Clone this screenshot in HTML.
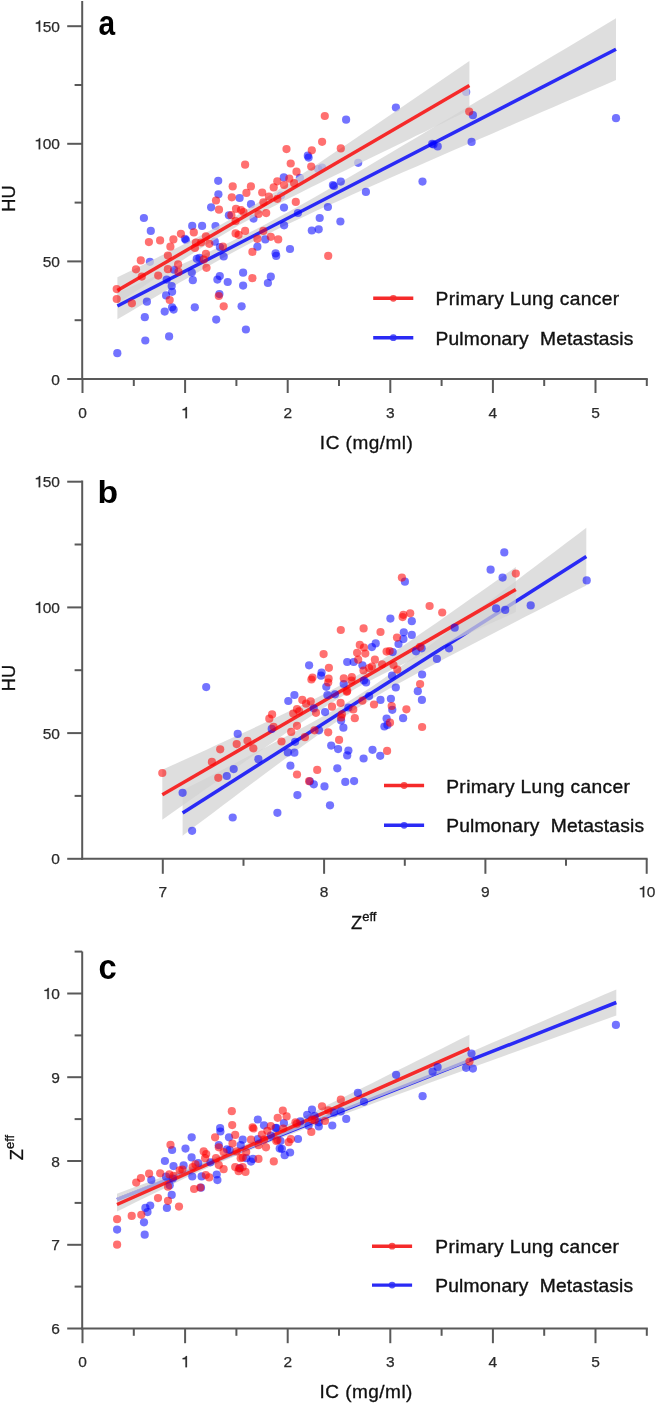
<!DOCTYPE html>
<html><head><meta charset="utf-8"><style>
html,body{margin:0;padding:0;background:#fff;}
svg{display:block;font-family:"Liberation Sans", sans-serif;will-change:transform;}
</style></head><body>
<svg width="657" height="1404" viewBox="0 0 657 1404">
<rect width="657" height="1404" fill="#fff"/>
<line x1="82.2" y1="1.0" x2="82.2" y2="380.0" stroke="#595959" stroke-width="2"/>
<line x1="81.2" y1="379.0" x2="647.8" y2="379.0" stroke="#595959" stroke-width="2"/>
<line x1="67.2" y1="379.0" x2="82.2" y2="379.0" stroke="#595959" stroke-width="2"/>
<text x="59.9" y="384.5" font-size="15.5" text-anchor="end" fill="#2b2b2b" stroke="#2b2b2b" stroke-width="0.25" font-weight="normal" >0</text>
<line x1="67.2" y1="261.4" x2="82.2" y2="261.4" stroke="#595959" stroke-width="2"/>
<text x="59.9" y="266.9" font-size="15.5" text-anchor="end" fill="#2b2b2b" stroke="#2b2b2b" stroke-width="0.25" font-weight="normal" >50</text>
<line x1="67.2" y1="143.8" x2="82.2" y2="143.8" stroke="#595959" stroke-width="2"/>
<path d="M0.397 0L0.397 0.716L0.33 0.716C0.31 0.645 0.255 0.59 0.116 0.58L0.116 0.515L0.302 0.515L0.302 0Z" fill="#2b2b2b" stroke="#2b2b2b" stroke-width="0.0161" transform="translate(34.04,149.30) scale(15.5,-15.5)"/>
<text x="59.9" y="149.3" font-size="15.5" text-anchor="end" fill="#2b2b2b" stroke="#2b2b2b" stroke-width="0.25" font-weight="normal" >&#8199;00</text>
<line x1="67.2" y1="26.2" x2="82.2" y2="26.2" stroke="#595959" stroke-width="2"/>
<path d="M0.397 0L0.397 0.716L0.33 0.716C0.31 0.645 0.255 0.59 0.116 0.58L0.116 0.515L0.302 0.515L0.302 0Z" fill="#2b2b2b" stroke="#2b2b2b" stroke-width="0.0161" transform="translate(34.04,31.70) scale(15.5,-15.5)"/>
<text x="59.9" y="31.7" font-size="15.5" text-anchor="end" fill="#2b2b2b" stroke="#2b2b2b" stroke-width="0.25" font-weight="normal" >&#8199;50</text>
<line x1="74.6" y1="320.2" x2="82.2" y2="320.2" stroke="#595959" stroke-width="2"/>
<line x1="74.6" y1="202.6" x2="82.2" y2="202.6" stroke="#595959" stroke-width="2"/>
<line x1="74.6" y1="85.0" x2="82.2" y2="85.0" stroke="#595959" stroke-width="2"/>
<line x1="82.5" y1="379.0" x2="82.5" y2="393.0" stroke="#595959" stroke-width="2"/>
<text x="82.5" y="418.2" font-size="15.5" text-anchor="middle" fill="#2b2b2b" stroke="#2b2b2b" stroke-width="0.25" font-weight="normal" >0</text>
<line x1="133.8" y1="379.0" x2="133.8" y2="386.0" stroke="#595959" stroke-width="2"/>
<line x1="185.1" y1="379.0" x2="185.1" y2="393.0" stroke="#595959" stroke-width="2"/>
<path d="M0.397 0L0.397 0.716L0.33 0.716C0.31 0.645 0.255 0.59 0.116 0.58L0.116 0.515L0.302 0.515L0.302 0Z" fill="#2b2b2b" stroke="#2b2b2b" stroke-width="0.0161" transform="translate(180.79,418.20) scale(15.5,-15.5)"/>
<text x="185.1" y="418.2" font-size="15.5" text-anchor="middle" fill="#2b2b2b" stroke="#2b2b2b" stroke-width="0.25" font-weight="normal" >&#8199;</text>
<line x1="236.4" y1="379.0" x2="236.4" y2="386.0" stroke="#595959" stroke-width="2"/>
<line x1="287.7" y1="379.0" x2="287.7" y2="393.0" stroke="#595959" stroke-width="2"/>
<text x="287.7" y="418.2" font-size="15.5" text-anchor="middle" fill="#2b2b2b" stroke="#2b2b2b" stroke-width="0.25" font-weight="normal" >2</text>
<line x1="339.0" y1="379.0" x2="339.0" y2="386.0" stroke="#595959" stroke-width="2"/>
<line x1="390.3" y1="379.0" x2="390.3" y2="393.0" stroke="#595959" stroke-width="2"/>
<text x="390.3" y="418.2" font-size="15.5" text-anchor="middle" fill="#2b2b2b" stroke="#2b2b2b" stroke-width="0.25" font-weight="normal" >3</text>
<line x1="441.6" y1="379.0" x2="441.6" y2="386.0" stroke="#595959" stroke-width="2"/>
<line x1="492.9" y1="379.0" x2="492.9" y2="393.0" stroke="#595959" stroke-width="2"/>
<text x="492.9" y="418.2" font-size="15.5" text-anchor="middle" fill="#2b2b2b" stroke="#2b2b2b" stroke-width="0.25" font-weight="normal" >4</text>
<line x1="544.2" y1="379.0" x2="544.2" y2="386.0" stroke="#595959" stroke-width="2"/>
<line x1="595.5" y1="379.0" x2="595.5" y2="393.0" stroke="#595959" stroke-width="2"/>
<text x="595.5" y="418.2" font-size="15.5" text-anchor="middle" fill="#2b2b2b" stroke="#2b2b2b" stroke-width="0.25" font-weight="normal" >5</text>
<line x1="646.8" y1="379.0" x2="646.8" y2="386.0" stroke="#595959" stroke-width="2"/>
<path d="M117.4,292.7 L129.9,287.3 L142.3,281.8 L154.8,276.3 L167.3,270.8 L179.7,265.2 L192.2,259.6 L204.7,253.9 L217.1,248.1 L229.6,242.2 L242.1,236.1 L254.5,229.9 L267.0,223.4 L279.4,216.8 L291.9,210.0 L304.4,203.0 L316.8,195.9 L329.3,188.7 L341.8,181.5 L354.2,174.2 L366.7,166.9 L379.2,159.6 L391.6,152.2 L404.1,144.8 L416.6,137.4 L429.0,130.0 L441.5,122.6 L454.0,115.2 L466.4,107.8 L478.9,100.3 L491.4,92.9 L503.8,85.4 L516.3,78.0 L528.7,70.6 L541.2,63.1 L553.7,55.6 L566.1,48.2 L578.6,40.7 L591.1,33.3 L603.5,25.8 L616.0,18.3 L616.0,80.1 L603.5,85.4 L591.1,90.8 L578.6,96.2 L566.1,101.6 L553.7,107.0 L541.2,112.3 L528.7,117.7 L516.3,123.1 L503.8,128.5 L491.4,133.9 L478.9,139.3 L466.4,144.7 L454.0,150.1 L441.5,155.5 L429.0,161.0 L416.6,166.4 L404.1,171.8 L391.6,177.3 L379.2,182.8 L366.7,188.3 L354.2,193.8 L341.8,199.4 L329.3,205.0 L316.8,210.6 L304.4,216.4 L291.9,222.3 L279.4,228.3 L267.0,234.5 L254.5,240.9 L242.1,247.5 L229.6,254.3 L217.1,261.2 L204.7,268.3 L192.2,275.4 L179.7,282.6 L167.3,289.9 L154.8,297.2 L142.3,304.5 L129.9,311.9 L117.4,319.3 Z" fill="rgba(210,210,210,0.74)"/>
<line x1="117.4" y1="306.0" x2="616.0" y2="49.2" stroke="#2a2af5" stroke-width="3.5"/>
<circle cx="117.3" cy="353.2" r="4.1" fill="rgba(0,0,255,0.55)"/>
<circle cx="145.3" cy="340.5" r="4.1" fill="rgba(0,0,255,0.55)"/>
<circle cx="144.8" cy="317.2" r="4.1" fill="rgba(0,0,255,0.55)"/>
<circle cx="146.9" cy="301.7" r="4.1" fill="rgba(0,0,255,0.55)"/>
<circle cx="149.9" cy="261.8" r="4.1" fill="rgba(0,0,255,0.55)"/>
<circle cx="164.7" cy="311.6" r="4.1" fill="rgba(0,0,255,0.55)"/>
<circle cx="166.1" cy="295.4" r="4.1" fill="rgba(0,0,255,0.55)"/>
<circle cx="166.7" cy="279.6" r="4.1" fill="rgba(0,0,255,0.55)"/>
<circle cx="169.1" cy="336.4" r="4.1" fill="rgba(0,0,255,0.55)"/>
<circle cx="171.7" cy="286.1" r="4.1" fill="rgba(0,0,255,0.55)"/>
<circle cx="172.1" cy="291.8" r="4.1" fill="rgba(0,0,255,0.55)"/>
<circle cx="172.1" cy="307.3" r="4.1" fill="rgba(0,0,255,0.55)"/>
<circle cx="173.6" cy="309.6" r="4.1" fill="rgba(0,0,255,0.55)"/>
<circle cx="174.0" cy="269.7" r="4.1" fill="rgba(0,0,255,0.55)"/>
<circle cx="191.8" cy="272.6" r="4.1" fill="rgba(0,0,255,0.55)"/>
<circle cx="192.8" cy="280.2" r="4.1" fill="rgba(0,0,255,0.55)"/>
<circle cx="194.8" cy="307.3" r="4.1" fill="rgba(0,0,255,0.55)"/>
<circle cx="196.8" cy="258.8" r="4.1" fill="rgba(0,0,255,0.55)"/>
<circle cx="199.4" cy="257.8" r="4.1" fill="rgba(0,0,255,0.55)"/>
<circle cx="143.9" cy="218.0" r="4.1" fill="rgba(0,0,255,0.55)"/>
<circle cx="150.8" cy="230.9" r="4.1" fill="rgba(0,0,255,0.55)"/>
<circle cx="184.9" cy="238.8" r="4.1" fill="rgba(0,0,255,0.55)"/>
<circle cx="186.0" cy="240.0" r="4.1" fill="rgba(0,0,255,0.55)"/>
<circle cx="192.2" cy="225.9" r="4.1" fill="rgba(0,0,255,0.55)"/>
<circle cx="202.1" cy="225.9" r="4.1" fill="rgba(0,0,255,0.55)"/>
<circle cx="223.7" cy="256.5" r="4.1" fill="rgba(0,0,255,0.55)"/>
<circle cx="275.6" cy="253.3" r="4.1" fill="rgba(0,0,255,0.55)"/>
<circle cx="276.2" cy="255.9" r="4.1" fill="rgba(0,0,255,0.55)"/>
<circle cx="243.1" cy="272.7" r="4.1" fill="rgba(0,0,255,0.55)"/>
<circle cx="219.8" cy="276.1" r="4.1" fill="rgba(0,0,255,0.55)"/>
<circle cx="217.4" cy="279.6" r="4.1" fill="rgba(0,0,255,0.55)"/>
<circle cx="227.7" cy="282.0" r="4.1" fill="rgba(0,0,255,0.55)"/>
<circle cx="243.1" cy="285.6" r="4.1" fill="rgba(0,0,255,0.55)"/>
<circle cx="270.8" cy="276.7" r="4.1" fill="rgba(0,0,255,0.55)"/>
<circle cx="267.9" cy="283.0" r="4.1" fill="rgba(0,0,255,0.55)"/>
<circle cx="219.4" cy="294.1" r="4.1" fill="rgba(0,0,255,0.55)"/>
<circle cx="241.6" cy="306.3" r="4.1" fill="rgba(0,0,255,0.55)"/>
<circle cx="216.2" cy="319.6" r="4.1" fill="rgba(0,0,255,0.55)"/>
<circle cx="245.9" cy="329.5" r="4.1" fill="rgba(0,0,255,0.55)"/>
<circle cx="218.2" cy="180.8" r="4.1" fill="rgba(0,0,255,0.55)"/>
<circle cx="218.4" cy="194.3" r="4.1" fill="rgba(0,0,255,0.55)"/>
<circle cx="239.6" cy="198.0" r="4.1" fill="rgba(0,0,255,0.55)"/>
<circle cx="211.1" cy="207.3" r="4.1" fill="rgba(0,0,255,0.55)"/>
<circle cx="228.9" cy="215.3" r="4.1" fill="rgba(0,0,255,0.55)"/>
<circle cx="251.0" cy="204.2" r="4.1" fill="rgba(0,0,255,0.55)"/>
<circle cx="253.5" cy="218.6" r="4.1" fill="rgba(0,0,255,0.55)"/>
<circle cx="284.0" cy="207.6" r="4.1" fill="rgba(0,0,255,0.55)"/>
<circle cx="283.8" cy="177.4" r="4.1" fill="rgba(0,0,255,0.55)"/>
<circle cx="299.9" cy="177.8" r="4.1" fill="rgba(0,0,255,0.55)"/>
<circle cx="307.8" cy="155.7" r="4.1" fill="rgba(0,0,255,0.55)"/>
<circle cx="322.1" cy="167.5" r="4.1" fill="rgba(0,0,255,0.55)"/>
<circle cx="319.7" cy="218.0" r="4.1" fill="rgba(0,0,255,0.55)"/>
<circle cx="311.8" cy="230.5" r="4.1" fill="rgba(0,0,255,0.55)"/>
<circle cx="318.7" cy="229.3" r="4.1" fill="rgba(0,0,255,0.55)"/>
<circle cx="284.1" cy="225.3" r="4.1" fill="rgba(0,0,255,0.55)"/>
<circle cx="297.9" cy="213.0" r="4.1" fill="rgba(0,0,255,0.55)"/>
<circle cx="215.5" cy="226.1" r="4.1" fill="rgba(0,0,255,0.55)"/>
<circle cx="214.8" cy="241.7" r="4.1" fill="rgba(0,0,255,0.55)"/>
<circle cx="265.3" cy="239.4" r="4.1" fill="rgba(0,0,255,0.55)"/>
<circle cx="257.4" cy="246.7" r="4.1" fill="rgba(0,0,255,0.55)"/>
<circle cx="290.0" cy="249.0" r="4.1" fill="rgba(0,0,255,0.55)"/>
<circle cx="281.0" cy="195.5" r="4.1" fill="rgba(0,0,255,0.55)"/>
<circle cx="219.9" cy="247.0" r="4.1" fill="rgba(0,0,255,0.55)"/>
<circle cx="327.9" cy="207.0" r="4.1" fill="rgba(0,0,255,0.55)"/>
<circle cx="340.4" cy="221.5" r="4.1" fill="rgba(0,0,255,0.55)"/>
<circle cx="395.9" cy="107.6" r="4.1" fill="rgba(0,0,255,0.55)"/>
<circle cx="346.1" cy="119.7" r="4.1" fill="rgba(0,0,255,0.55)"/>
<circle cx="358.2" cy="162.8" r="4.1" fill="rgba(0,0,255,0.55)"/>
<circle cx="332.9" cy="185.0" r="4.1" fill="rgba(0,0,255,0.55)"/>
<circle cx="334.0" cy="186.0" r="4.1" fill="rgba(0,0,255,0.55)"/>
<circle cx="340.8" cy="181.6" r="4.1" fill="rgba(0,0,255,0.55)"/>
<circle cx="365.9" cy="191.9" r="4.1" fill="rgba(0,0,255,0.55)"/>
<circle cx="422.5" cy="181.6" r="4.1" fill="rgba(0,0,255,0.55)"/>
<circle cx="432.2" cy="143.8" r="4.1" fill="rgba(0,0,255,0.55)"/>
<circle cx="433.5" cy="144.5" r="4.1" fill="rgba(0,0,255,0.55)"/>
<circle cx="437.7" cy="146.4" r="4.1" fill="rgba(0,0,255,0.55)"/>
<circle cx="466.2" cy="92.0" r="4.1" fill="rgba(0,0,255,0.55)"/>
<circle cx="472.9" cy="115.2" r="4.1" fill="rgba(0,0,255,0.55)"/>
<circle cx="471.6" cy="141.9" r="4.1" fill="rgba(0,0,255,0.55)"/>
<circle cx="616.0" cy="118.2" r="4.1" fill="rgba(0,0,255,0.55)"/>
<circle cx="308.6" cy="157.6" r="4.1" fill="rgba(0,0,255,0.55)"/>
<circle cx="318.2" cy="169.0" r="4.1" fill="rgba(0,0,255,0.55)"/>
<path d="M117.4,277.3 L126.2,273.0 L135.0,268.7 L143.8,264.4 L152.6,260.0 L161.4,255.6 L170.2,251.2 L179.0,246.7 L187.8,242.2 L196.6,237.7 L205.4,233.0 L214.2,228.3 L223.0,223.4 L231.8,218.4 L240.6,213.3 L249.4,208.0 L258.2,202.6 L267.0,197.0 L275.8,191.4 L284.6,185.7 L293.4,179.9 L302.2,174.1 L311.0,168.3 L319.8,162.4 L328.6,156.5 L337.4,150.6 L346.2,144.7 L355.0,138.8 L363.8,132.8 L372.6,126.9 L381.4,120.9 L390.2,115.0 L399.0,109.0 L407.8,103.0 L416.6,97.0 L425.4,91.1 L434.2,85.1 L443.0,79.1 L451.8,73.1 L460.6,67.1 L469.4,61.1 L469.4,110.1 L460.6,114.3 L451.8,118.6 L443.0,122.9 L434.2,127.1 L425.4,131.4 L416.6,135.6 L407.8,139.9 L399.0,144.2 L390.2,148.4 L381.4,152.7 L372.6,157.0 L363.8,161.3 L355.0,165.6 L346.2,169.9 L337.4,174.2 L328.6,178.6 L319.8,182.9 L311.0,187.3 L302.2,191.7 L293.4,196.2 L284.6,200.6 L275.8,205.2 L267.0,209.8 L258.2,214.5 L249.4,219.4 L240.6,224.3 L231.8,229.4 L223.0,234.7 L214.2,240.0 L205.4,245.5 L196.6,251.1 L187.8,256.8 L179.0,262.6 L170.2,268.3 L161.4,274.2 L152.6,280.0 L143.8,285.9 L135.0,291.8 L126.2,297.7 L117.4,303.7 Z" fill="rgba(210,210,210,0.74)"/>
<line x1="117.4" y1="290.5" x2="469.4" y2="85.6" stroke="#f52a2a" stroke-width="3.5"/>
<circle cx="116.7" cy="289.1" r="4.1" fill="rgba(255,0,0,0.56)"/>
<circle cx="116.7" cy="299.0" r="4.1" fill="rgba(255,0,0,0.56)"/>
<circle cx="131.9" cy="303.3" r="4.1" fill="rgba(255,0,0,0.56)"/>
<circle cx="136.0" cy="269.3" r="4.1" fill="rgba(255,0,0,0.56)"/>
<circle cx="140.8" cy="260.4" r="4.1" fill="rgba(255,0,0,0.56)"/>
<circle cx="141.8" cy="276.6" r="4.1" fill="rgba(255,0,0,0.56)"/>
<circle cx="158.2" cy="275.6" r="4.1" fill="rgba(255,0,0,0.56)"/>
<circle cx="167.9" cy="255.5" r="4.1" fill="rgba(255,0,0,0.56)"/>
<circle cx="167.9" cy="269.2" r="4.1" fill="rgba(255,0,0,0.56)"/>
<circle cx="178.1" cy="264.4" r="4.1" fill="rgba(255,0,0,0.56)"/>
<circle cx="178.5" cy="271.9" r="4.1" fill="rgba(255,0,0,0.56)"/>
<circle cx="169.7" cy="300.0" r="4.1" fill="rgba(255,0,0,0.56)"/>
<circle cx="203.8" cy="259.6" r="4.1" fill="rgba(255,0,0,0.56)"/>
<circle cx="148.9" cy="242.1" r="4.1" fill="rgba(255,0,0,0.56)"/>
<circle cx="160.1" cy="240.4" r="4.1" fill="rgba(255,0,0,0.56)"/>
<circle cx="173.4" cy="239.4" r="4.1" fill="rgba(255,0,0,0.56)"/>
<circle cx="180.9" cy="233.8" r="4.1" fill="rgba(255,0,0,0.56)"/>
<circle cx="170.4" cy="246.7" r="4.1" fill="rgba(255,0,0,0.56)"/>
<circle cx="193.8" cy="232.4" r="4.1" fill="rgba(255,0,0,0.56)"/>
<circle cx="195.9" cy="242.5" r="4.1" fill="rgba(255,0,0,0.56)"/>
<circle cx="201.1" cy="242.5" r="4.1" fill="rgba(255,0,0,0.56)"/>
<circle cx="194.9" cy="248.0" r="4.1" fill="rgba(255,0,0,0.56)"/>
<circle cx="252.4" cy="251.9" r="4.1" fill="rgba(255,0,0,0.56)"/>
<circle cx="205.9" cy="253.9" r="4.1" fill="rgba(255,0,0,0.56)"/>
<circle cx="206.5" cy="267.8" r="4.1" fill="rgba(255,0,0,0.56)"/>
<circle cx="252.4" cy="278.2" r="4.1" fill="rgba(255,0,0,0.56)"/>
<circle cx="218.8" cy="296.0" r="4.1" fill="rgba(255,0,0,0.56)"/>
<circle cx="223.7" cy="306.3" r="4.1" fill="rgba(255,0,0,0.56)"/>
<circle cx="328.2" cy="255.9" r="4.1" fill="rgba(255,0,0,0.56)"/>
<circle cx="245.1" cy="164.7" r="4.1" fill="rgba(255,0,0,0.56)"/>
<circle cx="286.5" cy="149.1" r="4.1" fill="rgba(255,0,0,0.56)"/>
<circle cx="322.1" cy="141.8" r="4.1" fill="rgba(255,0,0,0.56)"/>
<circle cx="311.8" cy="150.3" r="4.1" fill="rgba(255,0,0,0.56)"/>
<circle cx="290.7" cy="163.5" r="4.1" fill="rgba(255,0,0,0.56)"/>
<circle cx="311.2" cy="166.6" r="4.1" fill="rgba(255,0,0,0.56)"/>
<circle cx="296.5" cy="171.7" r="4.1" fill="rgba(255,0,0,0.56)"/>
<circle cx="232.7" cy="186.4" r="4.1" fill="rgba(255,0,0,0.56)"/>
<circle cx="250.9" cy="186.4" r="4.1" fill="rgba(255,0,0,0.56)"/>
<circle cx="246.4" cy="192.9" r="4.1" fill="rgba(255,0,0,0.56)"/>
<circle cx="231.8" cy="197.3" r="4.1" fill="rgba(255,0,0,0.56)"/>
<circle cx="216.0" cy="200.5" r="4.1" fill="rgba(255,0,0,0.56)"/>
<circle cx="219.0" cy="209.7" r="4.1" fill="rgba(255,0,0,0.56)"/>
<circle cx="236.0" cy="208.8" r="4.1" fill="rgba(255,0,0,0.56)"/>
<circle cx="241.0" cy="210.0" r="4.1" fill="rgba(255,0,0,0.56)"/>
<circle cx="243.5" cy="212.0" r="4.1" fill="rgba(255,0,0,0.56)"/>
<circle cx="262.2" cy="192.5" r="4.1" fill="rgba(255,0,0,0.56)"/>
<circle cx="268.9" cy="196.5" r="4.1" fill="rgba(255,0,0,0.56)"/>
<circle cx="273.7" cy="187.4" r="4.1" fill="rgba(255,0,0,0.56)"/>
<circle cx="277.3" cy="181.3" r="4.1" fill="rgba(255,0,0,0.56)"/>
<circle cx="284.1" cy="185.0" r="4.1" fill="rgba(255,0,0,0.56)"/>
<circle cx="289.3" cy="178.7" r="4.1" fill="rgba(255,0,0,0.56)"/>
<circle cx="294.1" cy="183.2" r="4.1" fill="rgba(255,0,0,0.56)"/>
<circle cx="277.3" cy="198.8" r="4.1" fill="rgba(255,0,0,0.56)"/>
<circle cx="263.4" cy="202.3" r="4.1" fill="rgba(255,0,0,0.56)"/>
<circle cx="295.8" cy="201.9" r="4.1" fill="rgba(255,0,0,0.56)"/>
<circle cx="258.5" cy="214.0" r="4.1" fill="rgba(255,0,0,0.56)"/>
<circle cx="266.2" cy="213.1" r="4.1" fill="rgba(255,0,0,0.56)"/>
<circle cx="231.4" cy="215.2" r="4.1" fill="rgba(255,0,0,0.56)"/>
<circle cx="235.6" cy="221.0" r="4.1" fill="rgba(255,0,0,0.56)"/>
<circle cx="245.1" cy="230.9" r="4.1" fill="rgba(255,0,0,0.56)"/>
<circle cx="235.6" cy="233.4" r="4.1" fill="rgba(255,0,0,0.56)"/>
<circle cx="238.6" cy="234.8" r="4.1" fill="rgba(255,0,0,0.56)"/>
<circle cx="257.4" cy="238.8" r="4.1" fill="rgba(255,0,0,0.56)"/>
<circle cx="263.3" cy="230.9" r="4.1" fill="rgba(255,0,0,0.56)"/>
<circle cx="270.8" cy="236.8" r="4.1" fill="rgba(255,0,0,0.56)"/>
<circle cx="278.2" cy="239.4" r="4.1" fill="rgba(255,0,0,0.56)"/>
<circle cx="205.9" cy="236.3" r="4.1" fill="rgba(255,0,0,0.56)"/>
<circle cx="209.3" cy="243.8" r="4.1" fill="rgba(255,0,0,0.56)"/>
<circle cx="222.9" cy="246.6" r="4.1" fill="rgba(255,0,0,0.56)"/>
<circle cx="324.8" cy="116.0" r="4.1" fill="rgba(255,0,0,0.56)"/>
<circle cx="340.8" cy="148.4" r="4.1" fill="rgba(255,0,0,0.56)"/>
<circle cx="469.2" cy="111.6" r="4.1" fill="rgba(255,0,0,0.56)"/>
<text x="0" y="0" font-size="17.6" fill="#111" stroke="#111" stroke-width="0.3" letter-spacing="0.45" text-anchor="middle" transform="translate(366.6,449.0) scale(1.08,1)">IC (mg/ml)</text>
<text x="0" y="0" font-size="18.3" fill="#111" stroke="#111" stroke-width="0.3" text-anchor="middle" transform="translate(14.6,198.5) rotate(-90)">HU</text>
<text x="0" y="0" font-size="34.3" font-weight="bold" fill="#000" transform="translate(98.6,35.0) scale(0.87,1)">a</text>
<line x1="373.2" y1="298.3" x2="413.3" y2="298.3" stroke="#f52a2a" stroke-width="3.4"/>
<circle cx="393.3" cy="298.3" r="3.4" fill="#f52a2a" opacity="0.8"/>
<text x="0" y="0" font-size="17.8" fill="#111" stroke="#111" stroke-width="0.35" letter-spacing="0.33" transform="translate(435.5,305.3) scale(1.08,1)">Primary Lung cancer</text>
<line x1="373.2" y1="337.7" x2="413.3" y2="337.7" stroke="#2a2af5" stroke-width="3.4"/>
<circle cx="393.3" cy="337.7" r="3.4" fill="#2a2af5" opacity="0.8"/>
<text x="0" y="0" font-size="17.8" fill="#111" stroke="#111" stroke-width="0.35" letter-spacing="0.15" transform="translate(435.5,344.7) scale(1.08,1)">Pulmonary <tspan dx="5.3">Metastasis</tspan></text>
<line x1="82.2" y1="480.6" x2="82.2" y2="859.8" stroke="#595959" stroke-width="2"/>
<line x1="81.2" y1="858.8" x2="647.6" y2="858.8" stroke="#595959" stroke-width="2"/>
<line x1="67.2" y1="858.8" x2="82.2" y2="858.8" stroke="#595959" stroke-width="2"/>
<text x="59.9" y="864.3" font-size="15.5" text-anchor="end" fill="#2b2b2b" stroke="#2b2b2b" stroke-width="0.25" font-weight="normal" >0</text>
<line x1="67.2" y1="733.1" x2="82.2" y2="733.1" stroke="#595959" stroke-width="2"/>
<text x="59.9" y="738.6" font-size="15.5" text-anchor="end" fill="#2b2b2b" stroke="#2b2b2b" stroke-width="0.25" font-weight="normal" >50</text>
<line x1="67.2" y1="607.4" x2="82.2" y2="607.4" stroke="#595959" stroke-width="2"/>
<path d="M0.397 0L0.397 0.716L0.33 0.716C0.31 0.645 0.255 0.59 0.116 0.58L0.116 0.515L0.302 0.515L0.302 0Z" fill="#2b2b2b" stroke="#2b2b2b" stroke-width="0.0161" transform="translate(34.04,612.90) scale(15.5,-15.5)"/>
<text x="59.9" y="612.9" font-size="15.5" text-anchor="end" fill="#2b2b2b" stroke="#2b2b2b" stroke-width="0.25" font-weight="normal" >&#8199;00</text>
<line x1="67.2" y1="481.7" x2="82.2" y2="481.7" stroke="#595959" stroke-width="2"/>
<path d="M0.397 0L0.397 0.716L0.33 0.716C0.31 0.645 0.255 0.59 0.116 0.58L0.116 0.515L0.302 0.515L0.302 0Z" fill="#2b2b2b" stroke="#2b2b2b" stroke-width="0.0161" transform="translate(34.04,487.20) scale(15.5,-15.5)"/>
<text x="59.9" y="487.2" font-size="15.5" text-anchor="end" fill="#2b2b2b" stroke="#2b2b2b" stroke-width="0.25" font-weight="normal" >&#8199;50</text>
<line x1="74.6" y1="795.9" x2="82.2" y2="795.9" stroke="#595959" stroke-width="2"/>
<line x1="74.6" y1="670.2" x2="82.2" y2="670.2" stroke="#595959" stroke-width="2"/>
<line x1="74.6" y1="544.5" x2="82.2" y2="544.5" stroke="#595959" stroke-width="2"/>
<line x1="162.8" y1="858.8" x2="162.8" y2="873.8" stroke="#595959" stroke-width="2"/>
<text x="162.8" y="897.3" font-size="15.5" text-anchor="middle" fill="#2b2b2b" stroke="#2b2b2b" stroke-width="0.25" font-weight="normal" >7</text>
<line x1="243.5" y1="858.8" x2="243.5" y2="865.8" stroke="#595959" stroke-width="2"/>
<line x1="324.1" y1="858.8" x2="324.1" y2="873.8" stroke="#595959" stroke-width="2"/>
<text x="324.1" y="897.3" font-size="15.5" text-anchor="middle" fill="#2b2b2b" stroke="#2b2b2b" stroke-width="0.25" font-weight="normal" >8</text>
<line x1="404.8" y1="858.8" x2="404.8" y2="865.8" stroke="#595959" stroke-width="2"/>
<line x1="485.4" y1="858.8" x2="485.4" y2="873.8" stroke="#595959" stroke-width="2"/>
<text x="485.4" y="897.3" font-size="15.5" text-anchor="middle" fill="#2b2b2b" stroke="#2b2b2b" stroke-width="0.25" font-weight="normal" >9</text>
<line x1="566.0" y1="858.8" x2="566.0" y2="865.8" stroke="#595959" stroke-width="2"/>
<line x1="646.7" y1="858.8" x2="646.7" y2="873.8" stroke="#595959" stroke-width="2"/>
<path d="M0.397 0L0.397 0.716L0.33 0.716C0.31 0.645 0.255 0.59 0.116 0.58L0.116 0.515L0.302 0.515L0.302 0Z" fill="#2b2b2b" stroke="#2b2b2b" stroke-width="0.0161" transform="translate(638.08,897.30) scale(15.5,-15.5)"/>
<text x="646.7" y="897.3" font-size="15.5" text-anchor="middle" fill="#2b2b2b" stroke="#2b2b2b" stroke-width="0.25" font-weight="normal" >&#8199;0</text>
<path d="M182.6,790.3 L192.7,785.1 L202.8,779.9 L212.9,774.7 L223.0,769.4 L233.1,764.2 L243.2,758.9 L253.2,753.7 L263.3,748.4 L273.4,743.1 L283.5,737.8 L293.6,732.4 L303.7,727.0 L313.8,721.4 L323.9,715.8 L334.0,710.1 L344.1,704.2 L354.2,698.0 L364.3,691.6 L374.4,684.9 L384.4,678.0 L394.5,671.0 L404.6,663.7 L414.7,656.4 L424.8,649.1 L434.9,641.6 L445.0,634.1 L455.1,626.6 L465.2,619.1 L475.3,611.5 L485.4,603.9 L495.5,596.4 L505.6,588.8 L515.7,581.2 L525.7,573.6 L535.8,565.9 L545.9,558.3 L556.0,550.7 L566.1,543.1 L576.2,535.4 L586.3,527.8 L586.3,585.4 L576.2,590.6 L566.1,595.8 L556.0,601.0 L545.9,606.2 L535.8,611.4 L525.7,616.6 L515.7,621.8 L505.6,627.0 L495.5,632.2 L485.4,637.5 L475.3,642.7 L465.2,648.0 L455.1,653.2 L445.0,658.6 L434.9,663.9 L424.8,669.3 L414.7,674.7 L404.6,680.2 L394.5,685.8 L384.4,691.6 L374.4,697.5 L364.3,703.7 L354.2,710.1 L344.1,716.7 L334.0,723.6 L323.9,730.7 L313.8,737.9 L303.7,745.2 L293.6,752.6 L283.5,760.0 L273.4,767.5 L263.3,775.0 L253.2,782.6 L243.2,790.1 L233.1,797.7 L223.0,805.3 L212.9,812.9 L202.8,820.5 L192.7,828.1 L182.6,835.7 Z" fill="rgba(210,210,210,0.74)"/>
<line x1="182.6" y1="813.0" x2="586.3" y2="556.6" stroke="#2a2af5" stroke-width="3.5"/>
<path d="M162.3,769.8 L171.1,765.8 L180.0,761.8 L188.8,757.7 L197.7,753.7 L206.5,749.7 L215.3,745.6 L224.2,741.6 L233.0,737.5 L241.8,733.4 L250.7,729.4 L259.5,725.3 L268.4,721.1 L277.2,717.0 L286.0,712.8 L294.9,708.6 L303.7,704.3 L312.5,699.9 L321.4,695.4 L330.2,690.8 L339.0,686.0 L347.9,681.0 L356.7,675.8 L365.6,670.4 L374.4,664.8 L383.2,659.0 L392.1,653.1 L400.9,647.2 L409.8,641.2 L418.6,635.1 L427.4,629.0 L436.3,622.9 L445.1,616.7 L453.9,610.5 L462.8,604.3 L471.6,598.1 L480.4,591.9 L489.3,585.7 L498.1,579.5 L507.0,573.2 L515.8,567.0 L515.8,612.0 L507.0,616.0 L498.1,620.1 L489.3,624.1 L480.4,628.1 L471.6,632.2 L462.8,636.3 L453.9,640.3 L445.1,644.4 L436.3,648.5 L427.4,652.7 L418.6,656.8 L409.8,661.0 L400.9,665.3 L392.1,669.6 L383.2,674.0 L374.4,678.5 L365.6,683.1 L356.7,688.0 L347.9,693.0 L339.0,698.3 L330.2,703.8 L321.4,709.4 L312.5,715.2 L303.7,721.1 L294.9,727.1 L286.0,733.1 L277.2,739.2 L268.4,745.3 L259.5,751.4 L250.7,757.6 L241.8,763.8 L233.0,770.0 L224.2,776.2 L215.3,782.4 L206.5,788.6 L197.7,794.8 L188.8,801.1 L180.0,807.3 L171.1,813.6 L162.3,819.8 Z" fill="rgba(210,210,210,0.74)"/>
<line x1="162.3" y1="794.8" x2="515.8" y2="589.5" stroke="#f52a2a" stroke-width="3.5"/>
<circle cx="182.6" cy="792.8" r="4.1" fill="rgba(0,0,255,0.55)"/>
<circle cx="192.1" cy="830.8" r="4.1" fill="rgba(0,0,255,0.55)"/>
<circle cx="232.7" cy="817.5" r="4.1" fill="rgba(0,0,255,0.55)"/>
<circle cx="226.8" cy="776.0" r="4.1" fill="rgba(0,0,255,0.55)"/>
<circle cx="233.7" cy="769.1" r="4.1" fill="rgba(0,0,255,0.55)"/>
<circle cx="237.7" cy="733.9" r="4.1" fill="rgba(0,0,255,0.55)"/>
<circle cx="258.4" cy="759.2" r="4.1" fill="rgba(0,0,255,0.55)"/>
<circle cx="271.7" cy="728.9" r="4.1" fill="rgba(0,0,255,0.55)"/>
<circle cx="277.4" cy="812.8" r="4.1" fill="rgba(0,0,255,0.55)"/>
<circle cx="206.2" cy="687.1" r="4.1" fill="rgba(0,0,255,0.55)"/>
<circle cx="294.4" cy="695.0" r="4.1" fill="rgba(0,0,255,0.55)"/>
<circle cx="288.3" cy="701.0" r="4.1" fill="rgba(0,0,255,0.55)"/>
<circle cx="313.7" cy="708.3" r="4.1" fill="rgba(0,0,255,0.55)"/>
<circle cx="325.1" cy="712.1" r="4.1" fill="rgba(0,0,255,0.55)"/>
<circle cx="327.4" cy="695.0" r="4.1" fill="rgba(0,0,255,0.55)"/>
<circle cx="335.0" cy="694.3" r="4.1" fill="rgba(0,0,255,0.55)"/>
<circle cx="319.0" cy="730.3" r="4.1" fill="rgba(0,0,255,0.55)"/>
<circle cx="295.1" cy="741.8" r="4.1" fill="rgba(0,0,255,0.55)"/>
<circle cx="287.8" cy="752.4" r="4.1" fill="rgba(0,0,255,0.55)"/>
<circle cx="294.4" cy="752.7" r="4.1" fill="rgba(0,0,255,0.55)"/>
<circle cx="290.4" cy="765.7" r="4.1" fill="rgba(0,0,255,0.55)"/>
<circle cx="341.1" cy="720.4" r="4.1" fill="rgba(0,0,255,0.55)"/>
<circle cx="343.4" cy="727.7" r="4.1" fill="rgba(0,0,255,0.55)"/>
<circle cx="348.4" cy="707.5" r="4.1" fill="rgba(0,0,255,0.55)"/>
<circle cx="331.2" cy="745.6" r="4.1" fill="rgba(0,0,255,0.55)"/>
<circle cx="338.1" cy="749.1" r="4.1" fill="rgba(0,0,255,0.55)"/>
<circle cx="348.4" cy="750.6" r="4.1" fill="rgba(0,0,255,0.55)"/>
<circle cx="347.2" cy="755.4" r="4.1" fill="rgba(0,0,255,0.55)"/>
<circle cx="363.6" cy="758.5" r="4.1" fill="rgba(0,0,255,0.55)"/>
<circle cx="337.3" cy="768.3" r="4.1" fill="rgba(0,0,255,0.55)"/>
<circle cx="313.8" cy="784.3" r="4.1" fill="rgba(0,0,255,0.55)"/>
<circle cx="309.9" cy="781.3" r="4.1" fill="rgba(0,0,255,0.55)"/>
<circle cx="324.5" cy="786.4" r="4.1" fill="rgba(0,0,255,0.55)"/>
<circle cx="345.3" cy="781.9" r="4.1" fill="rgba(0,0,255,0.55)"/>
<circle cx="354.1" cy="781.1" r="4.1" fill="rgba(0,0,255,0.55)"/>
<circle cx="297.4" cy="795.1" r="4.1" fill="rgba(0,0,255,0.55)"/>
<circle cx="330.0" cy="805.3" r="4.1" fill="rgba(0,0,255,0.55)"/>
<circle cx="309.1" cy="665.3" r="4.1" fill="rgba(0,0,255,0.55)"/>
<circle cx="321.6" cy="672.6" r="4.1" fill="rgba(0,0,255,0.55)"/>
<circle cx="321.0" cy="675.7" r="4.1" fill="rgba(0,0,255,0.55)"/>
<circle cx="326.3" cy="686.8" r="4.1" fill="rgba(0,0,255,0.55)"/>
<circle cx="347.2" cy="662.0" r="4.1" fill="rgba(0,0,255,0.55)"/>
<circle cx="353.7" cy="662.0" r="4.1" fill="rgba(0,0,255,0.55)"/>
<circle cx="362.4" cy="665.3" r="4.1" fill="rgba(0,0,255,0.55)"/>
<circle cx="343.7" cy="684.0" r="4.1" fill="rgba(0,0,255,0.55)"/>
<circle cx="364.0" cy="680.5" r="4.1" fill="rgba(0,0,255,0.55)"/>
<circle cx="390.4" cy="618.6" r="4.1" fill="rgba(0,0,255,0.55)"/>
<circle cx="411.8" cy="621.2" r="4.1" fill="rgba(0,0,255,0.55)"/>
<circle cx="403.8" cy="632.3" r="4.1" fill="rgba(0,0,255,0.55)"/>
<circle cx="411.8" cy="634.9" r="4.1" fill="rgba(0,0,255,0.55)"/>
<circle cx="403.4" cy="639.1" r="4.1" fill="rgba(0,0,255,0.55)"/>
<circle cx="398.5" cy="644.0" r="4.1" fill="rgba(0,0,255,0.55)"/>
<circle cx="375.7" cy="643.4" r="4.1" fill="rgba(0,0,255,0.55)"/>
<circle cx="371.9" cy="647.1" r="4.1" fill="rgba(0,0,255,0.55)"/>
<circle cx="392.7" cy="652.1" r="4.1" fill="rgba(0,0,255,0.55)"/>
<circle cx="416.0" cy="651.3" r="4.1" fill="rgba(0,0,255,0.55)"/>
<circle cx="421.6" cy="648.3" r="4.1" fill="rgba(0,0,255,0.55)"/>
<circle cx="454.7" cy="627.7" r="4.1" fill="rgba(0,0,255,0.55)"/>
<circle cx="449.0" cy="648.3" r="4.1" fill="rgba(0,0,255,0.55)"/>
<circle cx="436.9" cy="658.9" r="4.1" fill="rgba(0,0,255,0.55)"/>
<circle cx="392.0" cy="675.7" r="4.1" fill="rgba(0,0,255,0.55)"/>
<circle cx="422.1" cy="674.5" r="4.1" fill="rgba(0,0,255,0.55)"/>
<circle cx="366.1" cy="682.5" r="4.1" fill="rgba(0,0,255,0.55)"/>
<circle cx="395.8" cy="687.5" r="4.1" fill="rgba(0,0,255,0.55)"/>
<circle cx="417.8" cy="691.2" r="4.1" fill="rgba(0,0,255,0.55)"/>
<circle cx="369.1" cy="696.1" r="4.1" fill="rgba(0,0,255,0.55)"/>
<circle cx="380.5" cy="699.9" r="4.1" fill="rgba(0,0,255,0.55)"/>
<circle cx="390.9" cy="698.8" r="4.1" fill="rgba(0,0,255,0.55)"/>
<circle cx="392.3" cy="709.8" r="4.1" fill="rgba(0,0,255,0.55)"/>
<circle cx="421.9" cy="699.9" r="4.1" fill="rgba(0,0,255,0.55)"/>
<circle cx="403.1" cy="718.2" r="4.1" fill="rgba(0,0,255,0.55)"/>
<circle cx="386.6" cy="718.6" r="4.1" fill="rgba(0,0,255,0.55)"/>
<circle cx="384.4" cy="726.5" r="4.1" fill="rgba(0,0,255,0.55)"/>
<circle cx="387.4" cy="725.0" r="4.1" fill="rgba(0,0,255,0.55)"/>
<circle cx="372.5" cy="749.8" r="4.1" fill="rgba(0,0,255,0.55)"/>
<circle cx="380.2" cy="755.8" r="4.1" fill="rgba(0,0,255,0.55)"/>
<circle cx="496.1" cy="608.4" r="4.1" fill="rgba(0,0,255,0.55)"/>
<circle cx="505.2" cy="609.9" r="4.1" fill="rgba(0,0,255,0.55)"/>
<circle cx="530.7" cy="605.4" r="4.1" fill="rgba(0,0,255,0.55)"/>
<circle cx="504.3" cy="552.4" r="4.1" fill="rgba(0,0,255,0.55)"/>
<circle cx="490.6" cy="569.7" r="4.1" fill="rgba(0,0,255,0.55)"/>
<circle cx="502.6" cy="577.6" r="4.1" fill="rgba(0,0,255,0.55)"/>
<circle cx="586.7" cy="580.4" r="4.1" fill="rgba(0,0,255,0.55)"/>
<circle cx="404.9" cy="581.7" r="4.1" fill="rgba(0,0,255,0.55)"/>
<circle cx="162.3" cy="773.0" r="4.1" fill="rgba(255,0,0,0.56)"/>
<circle cx="220.2" cy="749.3" r="4.1" fill="rgba(255,0,0,0.56)"/>
<circle cx="211.9" cy="761.9" r="4.1" fill="rgba(255,0,0,0.56)"/>
<circle cx="218.3" cy="777.8" r="4.1" fill="rgba(255,0,0,0.56)"/>
<circle cx="236.7" cy="744.1" r="4.1" fill="rgba(255,0,0,0.56)"/>
<circle cx="247.5" cy="740.8" r="4.1" fill="rgba(255,0,0,0.56)"/>
<circle cx="253.3" cy="748.3" r="4.1" fill="rgba(255,0,0,0.56)"/>
<circle cx="272.1" cy="714.4" r="4.1" fill="rgba(255,0,0,0.56)"/>
<circle cx="269.3" cy="718.7" r="4.1" fill="rgba(255,0,0,0.56)"/>
<circle cx="273.6" cy="726.8" r="4.1" fill="rgba(255,0,0,0.56)"/>
<circle cx="297.0" cy="725.8" r="4.1" fill="rgba(255,0,0,0.56)"/>
<circle cx="291.2" cy="731.9" r="4.1" fill="rgba(255,0,0,0.56)"/>
<circle cx="281.5" cy="741.5" r="4.1" fill="rgba(255,0,0,0.56)"/>
<circle cx="293.2" cy="713.6" r="4.1" fill="rgba(255,0,0,0.56)"/>
<circle cx="297.0" cy="709.0" r="4.1" fill="rgba(255,0,0,0.56)"/>
<circle cx="299.2" cy="711.3" r="4.1" fill="rgba(255,0,0,0.56)"/>
<circle cx="302.3" cy="699.9" r="4.1" fill="rgba(255,0,0,0.56)"/>
<circle cx="306.1" cy="703.7" r="4.1" fill="rgba(255,0,0,0.56)"/>
<circle cx="310.7" cy="701.4" r="4.1" fill="rgba(255,0,0,0.56)"/>
<circle cx="316.0" cy="712.8" r="4.1" fill="rgba(255,0,0,0.56)"/>
<circle cx="314.5" cy="730.3" r="4.1" fill="rgba(255,0,0,0.56)"/>
<circle cx="304.9" cy="737.2" r="4.1" fill="rgba(255,0,0,0.56)"/>
<circle cx="332.0" cy="706.7" r="4.1" fill="rgba(255,0,0,0.56)"/>
<circle cx="340.6" cy="702.9" r="4.1" fill="rgba(255,0,0,0.56)"/>
<circle cx="328.2" cy="732.3" r="4.1" fill="rgba(255,0,0,0.56)"/>
<circle cx="339.1" cy="739.9" r="4.1" fill="rgba(255,0,0,0.56)"/>
<circle cx="341.9" cy="714.4" r="4.1" fill="rgba(255,0,0,0.56)"/>
<circle cx="341.1" cy="717.4" r="4.1" fill="rgba(255,0,0,0.56)"/>
<circle cx="353.3" cy="709.5" r="4.1" fill="rgba(255,0,0,0.56)"/>
<circle cx="354.8" cy="718.2" r="4.1" fill="rgba(255,0,0,0.56)"/>
<circle cx="362.4" cy="700.7" r="4.1" fill="rgba(255,0,0,0.56)"/>
<circle cx="346.7" cy="691.8" r="4.1" fill="rgba(255,0,0,0.56)"/>
<circle cx="317.2" cy="769.9" r="4.1" fill="rgba(255,0,0,0.56)"/>
<circle cx="297.0" cy="774.5" r="4.1" fill="rgba(255,0,0,0.56)"/>
<circle cx="309.1" cy="781.2" r="4.1" fill="rgba(255,0,0,0.56)"/>
<circle cx="340.8" cy="630.0" r="4.1" fill="rgba(255,0,0,0.56)"/>
<circle cx="363.6" cy="628.4" r="4.1" fill="rgba(255,0,0,0.56)"/>
<circle cx="323.6" cy="654.1" r="4.1" fill="rgba(255,0,0,0.56)"/>
<circle cx="328.9" cy="667.8" r="4.1" fill="rgba(255,0,0,0.56)"/>
<circle cx="312.5" cy="677.5" r="4.1" fill="rgba(255,0,0,0.56)"/>
<circle cx="311.4" cy="679.5" r="4.1" fill="rgba(255,0,0,0.56)"/>
<circle cx="328.6" cy="678.7" r="4.1" fill="rgba(255,0,0,0.56)"/>
<circle cx="328.2" cy="682.5" r="4.1" fill="rgba(255,0,0,0.56)"/>
<circle cx="343.8" cy="678.4" r="4.1" fill="rgba(255,0,0,0.56)"/>
<circle cx="351.8" cy="677.2" r="4.1" fill="rgba(255,0,0,0.56)"/>
<circle cx="351.5" cy="680.5" r="4.1" fill="rgba(255,0,0,0.56)"/>
<circle cx="359.8" cy="644.9" r="4.1" fill="rgba(255,0,0,0.56)"/>
<circle cx="357.1" cy="652.8" r="4.1" fill="rgba(255,0,0,0.56)"/>
<circle cx="358.2" cy="659.7" r="4.1" fill="rgba(255,0,0,0.56)"/>
<circle cx="364.0" cy="647.5" r="4.1" fill="rgba(255,0,0,0.56)"/>
<circle cx="363.5" cy="670.5" r="4.1" fill="rgba(255,0,0,0.56)"/>
<circle cx="347.2" cy="690.9" r="4.1" fill="rgba(255,0,0,0.56)"/>
<circle cx="429.6" cy="606.0" r="4.1" fill="rgba(255,0,0,0.56)"/>
<circle cx="442.2" cy="612.5" r="4.1" fill="rgba(255,0,0,0.56)"/>
<circle cx="410.2" cy="613.3" r="4.1" fill="rgba(255,0,0,0.56)"/>
<circle cx="403.4" cy="614.8" r="4.1" fill="rgba(255,0,0,0.56)"/>
<circle cx="402.6" cy="617.1" r="4.1" fill="rgba(255,0,0,0.56)"/>
<circle cx="380.5" cy="632.0" r="4.1" fill="rgba(255,0,0,0.56)"/>
<circle cx="397.0" cy="637.6" r="4.1" fill="rgba(255,0,0,0.56)"/>
<circle cx="365.3" cy="653.6" r="4.1" fill="rgba(255,0,0,0.56)"/>
<circle cx="386.6" cy="651.6" r="4.1" fill="rgba(255,0,0,0.56)"/>
<circle cx="389.7" cy="651.0" r="4.1" fill="rgba(255,0,0,0.56)"/>
<circle cx="374.9" cy="659.7" r="4.1" fill="rgba(255,0,0,0.56)"/>
<circle cx="382.1" cy="664.3" r="4.1" fill="rgba(255,0,0,0.56)"/>
<circle cx="371.9" cy="666.5" r="4.1" fill="rgba(255,0,0,0.56)"/>
<circle cx="369.1" cy="668.1" r="4.1" fill="rgba(255,0,0,0.56)"/>
<circle cx="393.5" cy="665.0" r="4.1" fill="rgba(255,0,0,0.56)"/>
<circle cx="397.3" cy="669.6" r="4.1" fill="rgba(255,0,0,0.56)"/>
<circle cx="420.1" cy="646.8" r="4.1" fill="rgba(255,0,0,0.56)"/>
<circle cx="420.1" cy="684.0" r="4.1" fill="rgba(255,0,0,0.56)"/>
<circle cx="374.0" cy="704.5" r="4.1" fill="rgba(255,0,0,0.56)"/>
<circle cx="391.7" cy="706.0" r="4.1" fill="rgba(255,0,0,0.56)"/>
<circle cx="406.4" cy="709.3" r="4.1" fill="rgba(255,0,0,0.56)"/>
<circle cx="390.0" cy="722.7" r="4.1" fill="rgba(255,0,0,0.56)"/>
<circle cx="422.1" cy="727.0" r="4.1" fill="rgba(255,0,0,0.56)"/>
<circle cx="387.1" cy="750.9" r="4.1" fill="rgba(255,0,0,0.56)"/>
<circle cx="515.8" cy="573.6" r="4.1" fill="rgba(255,0,0,0.56)"/>
<circle cx="401.9" cy="577.6" r="4.1" fill="rgba(255,0,0,0.56)"/>
<text x="351.0" y="928.6" font-size="18.3" fill="#111" stroke="#111" stroke-width="0.3">Z<tspan font-size="13" dy="-7.7">eff</tspan></text>
<text x="0" y="0" font-size="18.3" fill="#111" stroke="#111" stroke-width="0.3" text-anchor="middle" transform="translate(14.6,678) rotate(-90)">HU</text>
<text x="0" y="0" font-size="31.8" font-weight="bold" fill="#000" transform="translate(97.6,502.6) scale(1.06,1)">b</text>
<line x1="384.0" y1="785.5" x2="424.1" y2="785.5" stroke="#f52a2a" stroke-width="3.4"/>
<circle cx="404.1" cy="785.5" r="3.4" fill="#f52a2a" opacity="0.8"/>
<text x="0" y="0" font-size="17.8" fill="#111" stroke="#111" stroke-width="0.35" letter-spacing="0.33" transform="translate(446.2,792.5) scale(1.08,1)">Primary Lung cancer</text>
<line x1="384.0" y1="825.3" x2="424.1" y2="825.3" stroke="#2a2af5" stroke-width="3.4"/>
<circle cx="404.1" cy="825.3" r="3.4" fill="#2a2af5" opacity="0.8"/>
<text x="0" y="0" font-size="17.8" fill="#111" stroke="#111" stroke-width="0.35" letter-spacing="0.15" transform="translate(446.2,832.3) scale(1.08,1)">Pulmonary <tspan dx="5.3">Metastasis</tspan></text>
<line x1="82.2" y1="951.6" x2="82.2" y2="1329.5" stroke="#595959" stroke-width="2"/>
<line x1="81.2" y1="1328.5" x2="647.8" y2="1328.5" stroke="#595959" stroke-width="2"/>
<line x1="67.2" y1="1328.5" x2="82.2" y2="1328.5" stroke="#595959" stroke-width="2"/>
<text x="59.9" y="1334.0" font-size="15.5" text-anchor="end" fill="#2b2b2b" stroke="#2b2b2b" stroke-width="0.25" font-weight="normal" >6</text>
<line x1="67.2" y1="1244.8" x2="82.2" y2="1244.8" stroke="#595959" stroke-width="2"/>
<text x="59.9" y="1250.2" font-size="15.5" text-anchor="end" fill="#2b2b2b" stroke="#2b2b2b" stroke-width="0.25" font-weight="normal" >7</text>
<line x1="67.2" y1="1161.0" x2="82.2" y2="1161.0" stroke="#595959" stroke-width="2"/>
<text x="59.9" y="1166.5" font-size="15.5" text-anchor="end" fill="#2b2b2b" stroke="#2b2b2b" stroke-width="0.25" font-weight="normal" >8</text>
<line x1="67.2" y1="1077.2" x2="82.2" y2="1077.2" stroke="#595959" stroke-width="2"/>
<text x="59.9" y="1082.8" font-size="15.5" text-anchor="end" fill="#2b2b2b" stroke="#2b2b2b" stroke-width="0.25" font-weight="normal" >9</text>
<line x1="67.2" y1="993.5" x2="82.2" y2="993.5" stroke="#595959" stroke-width="2"/>
<path d="M0.397 0L0.397 0.716L0.33 0.716C0.31 0.645 0.255 0.59 0.116 0.58L0.116 0.515L0.302 0.515L0.302 0Z" fill="#2b2b2b" stroke="#2b2b2b" stroke-width="0.0161" transform="translate(42.66,999.00) scale(15.5,-15.5)"/>
<text x="59.9" y="999.0" font-size="15.5" text-anchor="end" fill="#2b2b2b" stroke="#2b2b2b" stroke-width="0.25" font-weight="normal" >&#8199;0</text>
<line x1="74.6" y1="1286.6" x2="82.2" y2="1286.6" stroke="#595959" stroke-width="2"/>
<line x1="74.6" y1="1202.9" x2="82.2" y2="1202.9" stroke="#595959" stroke-width="2"/>
<line x1="74.6" y1="1119.1" x2="82.2" y2="1119.1" stroke="#595959" stroke-width="2"/>
<line x1="74.6" y1="1035.4" x2="82.2" y2="1035.4" stroke="#595959" stroke-width="2"/>
<line x1="74.6" y1="951.6" x2="82.2" y2="951.6" stroke="#595959" stroke-width="2"/>
<line x1="82.5" y1="1328.5" x2="82.5" y2="1343.2" stroke="#595959" stroke-width="2"/>
<text x="82.5" y="1367.2" font-size="15.5" text-anchor="middle" fill="#2b2b2b" stroke="#2b2b2b" stroke-width="0.25" font-weight="normal" >0</text>
<line x1="133.8" y1="1328.5" x2="133.8" y2="1335.8" stroke="#595959" stroke-width="2"/>
<line x1="185.1" y1="1328.5" x2="185.1" y2="1343.2" stroke="#595959" stroke-width="2"/>
<path d="M0.397 0L0.397 0.716L0.33 0.716C0.31 0.645 0.255 0.59 0.116 0.58L0.116 0.515L0.302 0.515L0.302 0Z" fill="#2b2b2b" stroke="#2b2b2b" stroke-width="0.0161" transform="translate(180.79,1367.20) scale(15.5,-15.5)"/>
<text x="185.1" y="1367.2" font-size="15.5" text-anchor="middle" fill="#2b2b2b" stroke="#2b2b2b" stroke-width="0.25" font-weight="normal" >&#8199;</text>
<line x1="236.4" y1="1328.5" x2="236.4" y2="1335.8" stroke="#595959" stroke-width="2"/>
<line x1="287.7" y1="1328.5" x2="287.7" y2="1343.2" stroke="#595959" stroke-width="2"/>
<text x="287.7" y="1367.2" font-size="15.5" text-anchor="middle" fill="#2b2b2b" stroke="#2b2b2b" stroke-width="0.25" font-weight="normal" >2</text>
<line x1="339.0" y1="1328.5" x2="339.0" y2="1335.8" stroke="#595959" stroke-width="2"/>
<line x1="390.3" y1="1328.5" x2="390.3" y2="1343.2" stroke="#595959" stroke-width="2"/>
<text x="390.3" y="1367.2" font-size="15.5" text-anchor="middle" fill="#2b2b2b" stroke="#2b2b2b" stroke-width="0.25" font-weight="normal" >3</text>
<line x1="441.6" y1="1328.5" x2="441.6" y2="1335.8" stroke="#595959" stroke-width="2"/>
<line x1="492.9" y1="1328.5" x2="492.9" y2="1343.2" stroke="#595959" stroke-width="2"/>
<text x="492.9" y="1367.2" font-size="15.5" text-anchor="middle" fill="#2b2b2b" stroke="#2b2b2b" stroke-width="0.25" font-weight="normal" >4</text>
<line x1="544.2" y1="1328.5" x2="544.2" y2="1335.8" stroke="#595959" stroke-width="2"/>
<line x1="595.5" y1="1328.5" x2="595.5" y2="1343.2" stroke="#595959" stroke-width="2"/>
<text x="595.5" y="1367.2" font-size="15.5" text-anchor="middle" fill="#2b2b2b" stroke="#2b2b2b" stroke-width="0.25" font-weight="normal" >5</text>
<line x1="646.8" y1="1328.5" x2="646.8" y2="1335.8" stroke="#595959" stroke-width="2"/>
<path d="M117.0,1193.7 L129.5,1189.1 L142.0,1184.6 L154.4,1180.0 L166.9,1175.4 L179.4,1170.8 L191.9,1166.2 L204.4,1161.5 L216.9,1156.8 L229.3,1152.1 L241.8,1147.3 L254.3,1142.5 L266.8,1137.5 L279.3,1132.5 L291.8,1127.5 L304.2,1122.4 L316.7,1117.2 L329.2,1112.1 L341.7,1106.8 L354.2,1101.6 L366.6,1096.3 L379.1,1091.0 L391.6,1085.7 L404.1,1080.4 L416.6,1075.1 L429.1,1069.8 L441.5,1064.4 L454.0,1059.1 L466.5,1053.8 L479.0,1048.4 L491.5,1043.1 L504.0,1037.7 L516.4,1032.4 L528.9,1027.0 L541.4,1021.7 L553.9,1016.3 L566.4,1010.9 L578.9,1005.6 L591.3,1000.2 L603.8,994.8 L616.3,989.5 L616.3,1015.5 L603.8,1020.0 L591.3,1024.5 L578.9,1029.0 L566.4,1033.5 L553.9,1038.0 L541.4,1042.5 L528.9,1047.0 L516.4,1051.5 L504.0,1056.0 L491.5,1060.5 L479.0,1065.0 L466.5,1069.6 L454.0,1074.1 L441.5,1078.6 L429.1,1083.1 L416.6,1087.7 L404.1,1092.2 L391.6,1096.8 L379.1,1101.3 L366.6,1105.9 L354.2,1110.5 L341.7,1115.1 L329.2,1119.7 L316.7,1124.4 L304.2,1129.1 L291.8,1133.9 L279.3,1138.7 L266.8,1143.5 L254.3,1148.5 L241.8,1153.5 L229.3,1158.6 L216.9,1163.7 L204.4,1168.8 L191.9,1174.0 L179.4,1179.3 L166.9,1184.5 L154.4,1189.8 L142.0,1195.1 L129.5,1200.4 L117.0,1205.7 Z" fill="rgba(210,210,210,0.74)"/>
<line x1="117.0" y1="1199.7" x2="616.3" y2="1002.5" stroke="#2a2af5" stroke-width="3.5"/>
<path d="M117.0,1197.5 L125.8,1194.0 L134.6,1190.6 L143.4,1187.1 L152.2,1183.6 L161.1,1180.1 L169.9,1176.5 L178.7,1173.0 L187.5,1169.4 L196.3,1165.8 L205.1,1162.1 L213.9,1158.4 L222.7,1154.6 L231.5,1150.7 L240.3,1146.8 L249.2,1142.8 L258.0,1138.7 L266.8,1134.5 L275.6,1130.3 L284.4,1126.1 L293.2,1121.8 L302.0,1117.6 L310.8,1113.3 L319.6,1108.9 L328.4,1104.6 L337.2,1100.3 L346.1,1095.9 L354.9,1091.6 L363.7,1087.2 L372.5,1082.9 L381.3,1078.5 L390.1,1074.1 L398.9,1069.8 L407.7,1065.4 L416.5,1061.0 L425.4,1056.7 L434.2,1052.3 L443.0,1047.9 L451.8,1043.5 L460.6,1039.1 L469.4,1034.8 L469.4,1061.8 L460.6,1065.3 L451.8,1068.7 L443.0,1072.1 L434.2,1075.6 L425.4,1079.0 L416.5,1082.4 L407.7,1085.9 L398.9,1089.3 L390.1,1092.8 L381.3,1096.2 L372.5,1099.6 L363.7,1103.1 L354.9,1106.5 L346.1,1110.0 L337.2,1113.5 L328.4,1117.0 L319.6,1120.4 L310.8,1123.9 L302.0,1127.4 L293.2,1131.0 L284.4,1134.5 L275.6,1138.1 L266.8,1141.7 L258.0,1145.4 L249.2,1149.1 L240.3,1152.9 L231.5,1156.7 L222.7,1160.7 L213.9,1164.7 L205.1,1168.8 L196.3,1172.9 L187.5,1177.1 L178.7,1181.3 L169.9,1185.6 L161.1,1189.9 L152.2,1194.2 L143.4,1198.5 L134.6,1202.8 L125.8,1207.2 L117.0,1211.5 Z" fill="rgba(210,210,210,0.74)"/>
<line x1="117.0" y1="1204.5" x2="469.4" y2="1048.3" stroke="#f52a2a" stroke-width="3.5"/>
<circle cx="117.1" cy="1229.6" r="4.1" fill="rgba(0,0,255,0.55)"/>
<circle cx="144.7" cy="1234.7" r="4.1" fill="rgba(0,0,255,0.55)"/>
<circle cx="144.0" cy="1222.3" r="4.1" fill="rgba(0,0,255,0.55)"/>
<circle cx="145.4" cy="1207.9" r="4.1" fill="rgba(0,0,255,0.55)"/>
<circle cx="150.2" cy="1205.6" r="4.1" fill="rgba(0,0,255,0.55)"/>
<circle cx="147.5" cy="1212.1" r="4.1" fill="rgba(0,0,255,0.55)"/>
<circle cx="151.3" cy="1179.9" r="4.1" fill="rgba(0,0,255,0.55)"/>
<circle cx="166.9" cy="1207.9" r="4.1" fill="rgba(0,0,255,0.55)"/>
<circle cx="171.7" cy="1194.9" r="4.1" fill="rgba(0,0,255,0.55)"/>
<circle cx="169.7" cy="1185.3" r="4.1" fill="rgba(0,0,255,0.55)"/>
<circle cx="166.0" cy="1176.7" r="4.1" fill="rgba(0,0,255,0.55)"/>
<circle cx="172.8" cy="1178.5" r="4.1" fill="rgba(0,0,255,0.55)"/>
<circle cx="164.9" cy="1161.0" r="4.1" fill="rgba(0,0,255,0.55)"/>
<circle cx="173.5" cy="1166.1" r="4.1" fill="rgba(0,0,255,0.55)"/>
<circle cx="183.6" cy="1165.4" r="4.1" fill="rgba(0,0,255,0.55)"/>
<circle cx="192.3" cy="1176.5" r="4.1" fill="rgba(0,0,255,0.55)"/>
<circle cx="172.1" cy="1150.0" r="4.1" fill="rgba(0,0,255,0.55)"/>
<circle cx="185.5" cy="1148.6" r="4.1" fill="rgba(0,0,255,0.55)"/>
<circle cx="191.7" cy="1137.3" r="4.1" fill="rgba(0,0,255,0.55)"/>
<circle cx="191.6" cy="1157.4" r="4.1" fill="rgba(0,0,255,0.55)"/>
<circle cx="220.1" cy="1128.1" r="4.1" fill="rgba(0,0,255,0.55)"/>
<circle cx="220.4" cy="1131.5" r="4.1" fill="rgba(0,0,255,0.55)"/>
<circle cx="229.0" cy="1137.3" r="4.1" fill="rgba(0,0,255,0.55)"/>
<circle cx="257.8" cy="1119.5" r="4.1" fill="rgba(0,0,255,0.55)"/>
<circle cx="264.0" cy="1125.3" r="4.1" fill="rgba(0,0,255,0.55)"/>
<circle cx="275.6" cy="1128.1" r="4.1" fill="rgba(0,0,255,0.55)"/>
<circle cx="242.7" cy="1139.7" r="4.1" fill="rgba(0,0,255,0.55)"/>
<circle cx="240.7" cy="1145.2" r="4.1" fill="rgba(0,0,255,0.55)"/>
<circle cx="218.8" cy="1145.2" r="4.1" fill="rgba(0,0,255,0.55)"/>
<circle cx="227.0" cy="1149.3" r="4.1" fill="rgba(0,0,255,0.55)"/>
<circle cx="229.7" cy="1150.0" r="4.1" fill="rgba(0,0,255,0.55)"/>
<circle cx="257.8" cy="1139.0" r="4.1" fill="rgba(0,0,255,0.55)"/>
<circle cx="270.8" cy="1135.6" r="4.1" fill="rgba(0,0,255,0.55)"/>
<circle cx="210.5" cy="1162.3" r="4.1" fill="rgba(0,0,255,0.55)"/>
<circle cx="246.2" cy="1158.2" r="4.1" fill="rgba(0,0,255,0.55)"/>
<circle cx="251.0" cy="1161.6" r="4.1" fill="rgba(0,0,255,0.55)"/>
<circle cx="253.0" cy="1158.9" r="4.1" fill="rgba(0,0,255,0.55)"/>
<circle cx="279.7" cy="1148.6" r="4.1" fill="rgba(0,0,255,0.55)"/>
<circle cx="198.2" cy="1163.0" r="4.1" fill="rgba(0,0,255,0.55)"/>
<circle cx="201.6" cy="1176.4" r="4.1" fill="rgba(0,0,255,0.55)"/>
<circle cx="216.7" cy="1174.5" r="4.1" fill="rgba(0,0,255,0.55)"/>
<circle cx="217.4" cy="1180.1" r="4.1" fill="rgba(0,0,255,0.55)"/>
<circle cx="201.0" cy="1187.7" r="4.1" fill="rgba(0,0,255,0.55)"/>
<circle cx="357.9" cy="1092.9" r="4.1" fill="rgba(0,0,255,0.55)"/>
<circle cx="364.0" cy="1101.8" r="4.1" fill="rgba(0,0,255,0.55)"/>
<circle cx="312.0" cy="1109.6" r="4.1" fill="rgba(0,0,255,0.55)"/>
<circle cx="307.2" cy="1114.8" r="4.1" fill="rgba(0,0,255,0.55)"/>
<circle cx="314.7" cy="1116.2" r="4.1" fill="rgba(0,0,255,0.55)"/>
<circle cx="300.3" cy="1121.4" r="4.1" fill="rgba(0,0,255,0.55)"/>
<circle cx="283.9" cy="1123.0" r="4.1" fill="rgba(0,0,255,0.55)"/>
<circle cx="318.8" cy="1122.3" r="4.1" fill="rgba(0,0,255,0.55)"/>
<circle cx="333.9" cy="1112.7" r="4.1" fill="rgba(0,0,255,0.55)"/>
<circle cx="340.8" cy="1111.4" r="4.1" fill="rgba(0,0,255,0.55)"/>
<circle cx="346.2" cy="1118.9" r="4.1" fill="rgba(0,0,255,0.55)"/>
<circle cx="332.3" cy="1125.5" r="4.1" fill="rgba(0,0,255,0.55)"/>
<circle cx="318.8" cy="1126.4" r="4.1" fill="rgba(0,0,255,0.55)"/>
<circle cx="308.6" cy="1125.8" r="4.1" fill="rgba(0,0,255,0.55)"/>
<circle cx="276.4" cy="1127.8" r="4.1" fill="rgba(0,0,255,0.55)"/>
<circle cx="298.0" cy="1139.0" r="4.1" fill="rgba(0,0,255,0.55)"/>
<circle cx="280.5" cy="1141.0" r="4.1" fill="rgba(0,0,255,0.55)"/>
<circle cx="281.9" cy="1148.8" r="4.1" fill="rgba(0,0,255,0.55)"/>
<circle cx="284.7" cy="1155.2" r="4.1" fill="rgba(0,0,255,0.55)"/>
<circle cx="290.1" cy="1152.5" r="4.1" fill="rgba(0,0,255,0.55)"/>
<circle cx="396.1" cy="1074.8" r="4.1" fill="rgba(0,0,255,0.55)"/>
<circle cx="432.6" cy="1071.7" r="4.1" fill="rgba(0,0,255,0.55)"/>
<circle cx="437.6" cy="1067.0" r="4.1" fill="rgba(0,0,255,0.55)"/>
<circle cx="422.6" cy="1096.2" r="4.1" fill="rgba(0,0,255,0.55)"/>
<circle cx="471.5" cy="1053.6" r="4.1" fill="rgba(0,0,255,0.55)"/>
<circle cx="466.1" cy="1067.8" r="4.1" fill="rgba(0,0,255,0.55)"/>
<circle cx="472.9" cy="1068.6" r="4.1" fill="rgba(0,0,255,0.55)"/>
<circle cx="615.9" cy="1024.9" r="4.1" fill="rgba(0,0,255,0.55)"/>
<circle cx="239.8" cy="1168.1" r="4.1" fill="rgba(0,0,255,0.55)"/>
<circle cx="117.1" cy="1244.7" r="4.1" fill="rgba(255,0,0,0.56)"/>
<circle cx="117.1" cy="1219.2" r="4.1" fill="rgba(255,0,0,0.56)"/>
<circle cx="131.7" cy="1215.9" r="4.1" fill="rgba(255,0,0,0.56)"/>
<circle cx="141.3" cy="1214.8" r="4.1" fill="rgba(255,0,0,0.56)"/>
<circle cx="136.2" cy="1182.6" r="4.1" fill="rgba(255,0,0,0.56)"/>
<circle cx="140.9" cy="1178.1" r="4.1" fill="rgba(255,0,0,0.56)"/>
<circle cx="149.1" cy="1173.7" r="4.1" fill="rgba(255,0,0,0.56)"/>
<circle cx="160.2" cy="1173.3" r="4.1" fill="rgba(255,0,0,0.56)"/>
<circle cx="158.0" cy="1198.1" r="4.1" fill="rgba(255,0,0,0.56)"/>
<circle cx="168.0" cy="1200.8" r="4.1" fill="rgba(255,0,0,0.56)"/>
<circle cx="168.0" cy="1186.7" r="4.1" fill="rgba(255,0,0,0.56)"/>
<circle cx="169.4" cy="1174.4" r="4.1" fill="rgba(255,0,0,0.56)"/>
<circle cx="173.5" cy="1175.8" r="4.1" fill="rgba(255,0,0,0.56)"/>
<circle cx="179.0" cy="1206.6" r="4.1" fill="rgba(255,0,0,0.56)"/>
<circle cx="179.7" cy="1170.3" r="4.1" fill="rgba(255,0,0,0.56)"/>
<circle cx="182.4" cy="1169.6" r="4.1" fill="rgba(255,0,0,0.56)"/>
<circle cx="170.5" cy="1144.8" r="4.1" fill="rgba(255,0,0,0.56)"/>
<circle cx="231.8" cy="1111.2" r="4.1" fill="rgba(255,0,0,0.56)"/>
<circle cx="232.2" cy="1125.1" r="4.1" fill="rgba(255,0,0,0.56)"/>
<circle cx="252.6" cy="1127.4" r="4.1" fill="rgba(255,0,0,0.56)"/>
<circle cx="253.5" cy="1128.5" r="4.1" fill="rgba(255,0,0,0.56)"/>
<circle cx="277.7" cy="1117.8" r="4.1" fill="rgba(255,0,0,0.56)"/>
<circle cx="235.2" cy="1134.9" r="4.1" fill="rgba(255,0,0,0.56)"/>
<circle cx="215.1" cy="1137.3" r="4.1" fill="rgba(255,0,0,0.56)"/>
<circle cx="232.5" cy="1143.6" r="4.1" fill="rgba(255,0,0,0.56)"/>
<circle cx="251.0" cy="1139.7" r="4.1" fill="rgba(255,0,0,0.56)"/>
<circle cx="261.9" cy="1134.5" r="4.1" fill="rgba(255,0,0,0.56)"/>
<circle cx="270.8" cy="1126.0" r="4.1" fill="rgba(255,0,0,0.56)"/>
<circle cx="267.4" cy="1130.8" r="4.1" fill="rgba(255,0,0,0.56)"/>
<circle cx="264.0" cy="1139.7" r="4.1" fill="rgba(255,0,0,0.56)"/>
<circle cx="266.0" cy="1147.3" r="4.1" fill="rgba(255,0,0,0.56)"/>
<circle cx="218.8" cy="1147.3" r="4.1" fill="rgba(255,0,0,0.56)"/>
<circle cx="223.6" cy="1152.1" r="4.1" fill="rgba(255,0,0,0.56)"/>
<circle cx="203.7" cy="1151.4" r="4.1" fill="rgba(255,0,0,0.56)"/>
<circle cx="206.2" cy="1154.1" r="4.1" fill="rgba(255,0,0,0.56)"/>
<circle cx="205.1" cy="1158.2" r="4.1" fill="rgba(255,0,0,0.56)"/>
<circle cx="216.0" cy="1158.2" r="4.1" fill="rgba(255,0,0,0.56)"/>
<circle cx="240.7" cy="1158.2" r="4.1" fill="rgba(255,0,0,0.56)"/>
<circle cx="242.7" cy="1157.5" r="4.1" fill="rgba(255,0,0,0.56)"/>
<circle cx="258.5" cy="1158.9" r="4.1" fill="rgba(255,0,0,0.56)"/>
<circle cx="273.8" cy="1161.4" r="4.1" fill="rgba(255,0,0,0.56)"/>
<circle cx="246.2" cy="1152.1" r="4.1" fill="rgba(255,0,0,0.56)"/>
<circle cx="236.6" cy="1151.4" r="4.1" fill="rgba(255,0,0,0.56)"/>
<circle cx="218.8" cy="1165.1" r="4.1" fill="rgba(255,0,0,0.56)"/>
<circle cx="223.6" cy="1169.2" r="4.1" fill="rgba(255,0,0,0.56)"/>
<circle cx="235.2" cy="1167.1" r="4.1" fill="rgba(255,0,0,0.56)"/>
<circle cx="238.6" cy="1171.2" r="4.1" fill="rgba(255,0,0,0.56)"/>
<circle cx="242.7" cy="1167.1" r="4.1" fill="rgba(255,0,0,0.56)"/>
<circle cx="245.5" cy="1171.9" r="4.1" fill="rgba(255,0,0,0.56)"/>
<circle cx="239.3" cy="1168.5" r="4.1" fill="rgba(255,0,0,0.56)"/>
<circle cx="195.5" cy="1164.4" r="4.1" fill="rgba(255,0,0,0.56)"/>
<circle cx="192.7" cy="1167.1" r="4.1" fill="rgba(255,0,0,0.56)"/>
<circle cx="205.8" cy="1175.1" r="4.1" fill="rgba(255,0,0,0.56)"/>
<circle cx="209.2" cy="1177.4" r="4.1" fill="rgba(255,0,0,0.56)"/>
<circle cx="200.3" cy="1187.5" r="4.1" fill="rgba(255,0,0,0.56)"/>
<circle cx="194.1" cy="1189.0" r="4.1" fill="rgba(255,0,0,0.56)"/>
<circle cx="258.5" cy="1145.2" r="4.1" fill="rgba(255,0,0,0.56)"/>
<circle cx="276.3" cy="1141.1" r="4.1" fill="rgba(255,0,0,0.56)"/>
<circle cx="340.8" cy="1099.7" r="4.1" fill="rgba(255,0,0,0.56)"/>
<circle cx="322.0" cy="1106.3" r="4.1" fill="rgba(255,0,0,0.56)"/>
<circle cx="328.4" cy="1110.4" r="4.1" fill="rgba(255,0,0,0.56)"/>
<circle cx="282.8" cy="1110.7" r="4.1" fill="rgba(255,0,0,0.56)"/>
<circle cx="286.6" cy="1116.4" r="4.1" fill="rgba(255,0,0,0.56)"/>
<circle cx="295.5" cy="1122.3" r="4.1" fill="rgba(255,0,0,0.56)"/>
<circle cx="296.9" cy="1123.7" r="4.1" fill="rgba(255,0,0,0.56)"/>
<circle cx="312.0" cy="1119.6" r="4.1" fill="rgba(255,0,0,0.56)"/>
<circle cx="314.7" cy="1120.3" r="4.1" fill="rgba(255,0,0,0.56)"/>
<circle cx="325.0" cy="1121.0" r="4.1" fill="rgba(255,0,0,0.56)"/>
<circle cx="311.3" cy="1131.9" r="4.1" fill="rgba(255,0,0,0.56)"/>
<circle cx="283.2" cy="1128.5" r="4.1" fill="rgba(255,0,0,0.56)"/>
<circle cx="290.8" cy="1139.2" r="4.1" fill="rgba(255,0,0,0.56)"/>
<circle cx="288.7" cy="1142.2" r="4.1" fill="rgba(255,0,0,0.56)"/>
<circle cx="277.4" cy="1140.0" r="4.1" fill="rgba(255,0,0,0.56)"/>
<circle cx="469.5" cy="1061.5" r="4.1" fill="rgba(255,0,0,0.56)"/>
<text x="0" y="0" font-size="17.6" fill="#111" stroke="#111" stroke-width="0.3" letter-spacing="0.45" text-anchor="middle" transform="translate(366.2,1397.7) scale(1.08,1)">IC (mg/ml)</text>
<text x="23" y="1147.5" font-size="18.3" fill="#111" stroke="#111" stroke-width="0.3" transform="rotate(-90 23 1147.5)" text-anchor="middle">Z<tspan font-size="13" dy="-8.7">eff</tspan></text>
<text x="0" y="0" font-size="34.8" font-weight="bold" fill="#000" transform="translate(98.4,978.8) scale(0.94,1)">c</text>
<line x1="372.0" y1="1246.2" x2="412.1" y2="1246.2" stroke="#f52a2a" stroke-width="3.4"/>
<circle cx="392.1" cy="1246.2" r="3.4" fill="#f52a2a" opacity="0.8"/>
<text x="0" y="0" font-size="17.8" fill="#111" stroke="#111" stroke-width="0.35" letter-spacing="0.33" transform="translate(435.3,1253.2) scale(1.08,1)">Primary Lung cancer</text>
<line x1="372.0" y1="1285.1" x2="412.1" y2="1285.1" stroke="#2a2af5" stroke-width="3.4"/>
<circle cx="392.1" cy="1285.1000000000001" r="3.4" fill="#2a2af5" opacity="0.8"/>
<text x="0" y="0" font-size="17.8" fill="#111" stroke="#111" stroke-width="0.35" letter-spacing="0.15" transform="translate(435.3,1292.1) scale(1.08,1)">Pulmonary <tspan dx="5.3">Metastasis</tspan></text>
</svg></body></html>
